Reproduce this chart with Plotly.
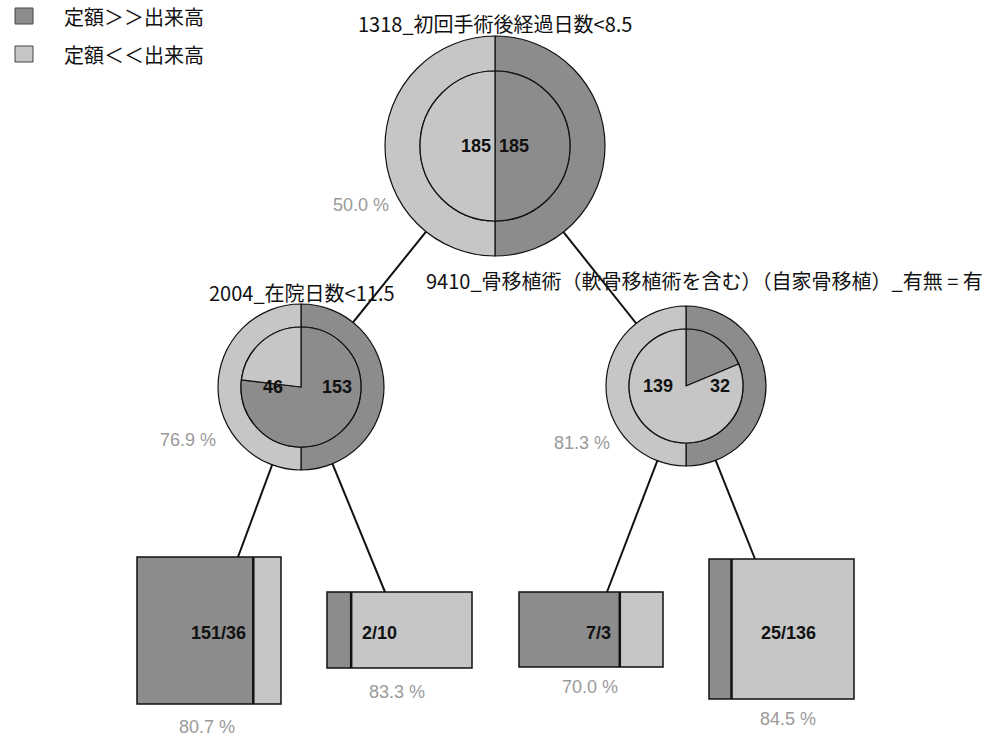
import plotly.graph_objects as go

# ---------------- data ----------------
node_names = [
    "1318_初回手術後経過日数<8.5",
    "2004_在院日数<11.5",
    "9410_骨移植術（軟骨移植術を含む）（自家骨移植）_有無 = 有",
]
node_dark = [185, 153, 32]     # 定額>>出来高
node_light = [185, 46, 139]    # 定額<<出来高
prior_dark = 185
prior_light = 185

leaf_dark = [151, 2, 7, 25]
leaf_light = [36, 10, 3, 136]

legend_labels = ["定額＞＞出来高", "定額＜＜出来高"]

# ---------------- layout (positions / sizes, pixels) ----------------
W, H = 993, 740
node_cx = [495, 301, 686]
node_cy = [146, 387, 386]
node_R = [110, 83, 80]
node_r = [75, 60, 57]
node_title_xy = [(495, 23), (302, 292), (704, 280)]
node_pct_xy = [(361, 205), (188, 440), (582, 443)]
node_num_gap = [(2, 2), (16, 19), (11, 22)]
node_children = {0: [1, 2]}

leaf_x0 = [137, 327, 519, 709]
leaf_y0 = [557, 592, 592, 559]
leaf_w = [144, 145, 144, 145]
leaf_h = [147, 76, 75, 140]
leaf_anchor = [238, 385, 607, 755]
leaf_parent = [1, 1, 2, 2]
leaf_label_pos = [(248, 633, "right"), (360, 633, "left"), (613, 633, "right"), (788, 633, "center")]
leaf_pct_xy = [(207, 727), (397, 692), (590, 687), (788, 719)]

DARK = "#8c8c8c"
LIGHT = "#c6c6c6"
LINE = "#111111"
PCT = "#9a9a9a"
CJK = "Noto Sans CJK JP"
SANS = "Liberation Sans, Arial"

fig = go.Figure()
# invisible trace so the pixel-coordinate cartesian axes exist
fig.add_trace(go.Scatter(x=[0, W], y=[0, H], mode="markers",
                         marker=dict(opacity=0), hoverinfo="skip", showlegend=False))
shapes = []
annotations = []

def px2paper_x(x):
    return x / W

def px2paper_y(y):
    return 1 - y / H

# edges (drawn under the pies)
for p, kids in node_children.items():
    for k in kids:
        shapes.append(dict(type="line", layer="below", x0=node_cx[p], y0=node_cy[p],
                           x1=node_cx[k], y1=node_cy[k], line=dict(color=LINE, width=2)))
for i, p in enumerate(leaf_parent):
    shapes.append(dict(type="line", layer="below", x0=node_cx[p], y0=node_cy[p],
                       x1=leaf_anchor[i], y1=leaf_y0[i], line=dict(color=LINE, width=2)))

# nodes: outer ring = prior split, inner pie = node split
for i in range(len(node_names)):
    cx, cy, R, r = node_cx[i], node_cy[i], node_R[i], node_r[i]
    fig.add_trace(go.Pie(
        values=[prior_dark, prior_light], labels=["d", "l"], hole=r / R,
        domain=dict(x=[px2paper_x(cx - R), px2paper_x(cx + R)],
                    y=[px2paper_y(cy + R), px2paper_y(cy - R)]),
        marker=dict(colors=[DARK, LIGHT], line=dict(color=LINE, width=1.2)),
        sort=False, direction="clockwise", rotation=0, textinfo="none",
        hoverinfo="skip", showlegend=False))
    fig.add_trace(go.Pie(
        values=[node_dark[i], node_light[i]], labels=["d", "l"],
        domain=dict(x=[px2paper_x(cx - r), px2paper_x(cx + r)],
                    y=[px2paper_y(cy + r), px2paper_y(cy - r)]),
        marker=dict(colors=[DARK, LIGHT], line=dict(color=LINE, width=1.2)),
        sort=False, direction="clockwise", rotation=0, textinfo="none",
        hoverinfo="skip", showlegend=False))
    tx, ty = node_title_xy[i]
    annotations.append(dict(x=tx, y=ty, text=node_names[i], showarrow=False,
                            font=dict(family=CJK, size=20, color="#111"),
                            xanchor="center", yanchor="middle"))
    gl, gr = node_num_gap[i]
    annotations.append(dict(x=cx - gl, y=cy, text=f"<b>{node_light[i]}</b>", showarrow=False,
                            font=dict(family=SANS, size=18, color="#111"),
                            xanchor="right", yanchor="middle"))
    annotations.append(dict(x=cx + gr, y=cy, text=f"<b>{node_dark[i]}</b>", showarrow=False,
                            font=dict(family=SANS, size=18, color="#111"),
                            xanchor="left", yanchor="middle"))
    tot = node_dark[i] + node_light[i]
    pct = 100 * max(node_dark[i], node_light[i]) / tot
    px_, py_ = node_pct_xy[i]
    annotations.append(dict(x=px_, y=py_, text=f"{pct:.1f} %", showarrow=False,
                            font=dict(family=SANS, size=18, color=PCT),
                            xanchor="center", yanchor="middle"))

# leaves: box split dark | light proportional to counts
for i in range(len(leaf_dark)):
    x0, y0, w, h = leaf_x0[i], leaf_y0[i], leaf_w[i], leaf_h[i]
    tot = leaf_dark[i] + leaf_light[i]
    xd = x0 + w * leaf_dark[i] / tot
    shapes.append(dict(type="rect", x0=x0, x1=xd, y0=y0, y1=y0 + h,
                       fillcolor=DARK, line=dict(width=0)))
    shapes.append(dict(type="rect", x0=xd, x1=x0 + w, y0=y0, y1=y0 + h,
                       fillcolor=LIGHT, line=dict(width=0)))
    shapes.append(dict(type="rect", x0=x0, x1=x0 + w, y0=y0, y1=y0 + h,
                       line=dict(color=LINE, width=1.5)))
    shapes.append(dict(type="line", x0=xd, x1=xd, y0=y0, y1=y0 + h,
                       line=dict(color=LINE, width=2.5)))
    lx, ly, la = leaf_label_pos[i]
    annotations.append(dict(x=lx, y=ly, text=f"<b>{leaf_dark[i]}/{leaf_light[i]}</b>",
                            showarrow=False, font=dict(family=SANS, size=18, color="#111"),
                            xanchor=la, yanchor="middle"))
    pct = 100 * max(leaf_dark[i], leaf_light[i]) / tot
    px_, py_ = leaf_pct_xy[i]
    annotations.append(dict(x=px_, y=py_, text=f"{pct:.1f} %", showarrow=False,
                            font=dict(family=SANS, size=18, color=PCT),
                            xanchor="center", yanchor="middle"))

# legend
legend_colors = [DARK, LIGHT]
legend_y = [16, 54]
for lab, col, yy in zip(legend_labels, legend_colors, legend_y):
    shapes.append(dict(type="rect", x0=15, x1=33, y0=yy - 8, y1=yy + 8,
                       fillcolor=col, line=dict(color="#444", width=1)))
    annotations.append(dict(x=62, y=yy, text=lab, showarrow=False,
                            font=dict(family=CJK, size=20, color="#111"),
                            xanchor="left", yanchor="middle"))

fig.update_layout(
    width=W, height=H, margin=dict(l=0, r=0, t=0, b=0),
    paper_bgcolor="white", plot_bgcolor="white",
    xaxis=dict(range=[0, W], visible=False, fixedrange=True),
    yaxis=dict(range=[H, 0], visible=False, fixedrange=True),
    shapes=shapes, annotations=annotations, showlegend=False,
)

fig.write_html("out.html", post_script="document.body.style.margin='0';",
               config={"displayModeBar": False})
